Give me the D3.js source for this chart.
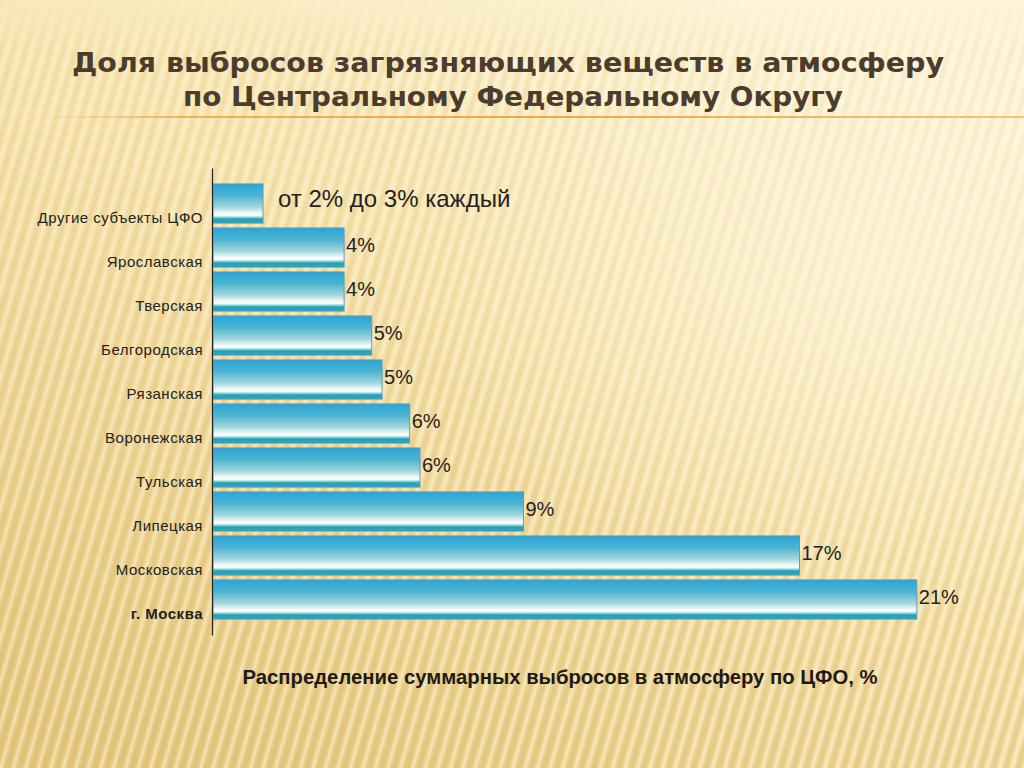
<!DOCTYPE html>
<html><head><meta charset="utf-8">
<script src="https://cdn.jsdelivr.net/npm/d3@7"></script>
<style>html,body{margin:0;padding:0;overflow:hidden;background:#f7e6b0}</style>
</head><body>
<script>
const categories = ["Другие субъекты ЦФО","Ярославская","Тверская","Белгородская","Рязанская","Воронежская","Тульская","Липецкая","Московская","г. Москва"];
const values = [1.45, 3.8, 3.8, 4.6, 4.9, 5.7, 6.0, 9.0, 17.0, 20.4];
const valueLabels = ["от 2% до 3% каждый","4%","4%","5%","5%","6%","6%","9%","17%","21%"];
const titleLines = ["Доля выбросов загрязняющих веществ в атмосферу","по Центральному Федеральному Округу"];
const caption = "Распределение суммарных выбросов в атмосферу по ЦФО, %";

const W = 1024, H = 768;
const svg = d3.select("body").append("svg").attr("width", W).attr("height", H);
const defs = svg.append("defs");

// background
const bg = defs.append("linearGradient").attr("id","bg").attr("x1","0.75").attr("y1","0").attr("x2","0.15").attr("y2","1");
bg.append("stop").attr("offset","0").attr("stop-color","#fdf4d6");
bg.append("stop").attr("offset","0.4").attr("stop-color","#f8e6b2");
bg.append("stop").attr("offset","1").attr("stop-color","#e8cb84");
const glow = defs.append("radialGradient").attr("id","glow").attr("cx","0.85").attr("cy","0.35").attr("r","0.45");
glow.append("stop").attr("offset","0").attr("stop-color","#fff8e0").attr("stop-opacity",0.6);
glow.append("stop").attr("offset","1").attr("stop-color","#fff8e0").attr("stop-opacity",0);
const pat = defs.append("pattern").attr("id","stripes").attr("patternUnits","userSpaceOnUse")
  .attr("width",12).attr("height",20).attr("patternTransform","rotate(16)");
pat.append("rect").attr("width",5).attr("height",20).attr("fill","#c29d42").attr("opacity",0.2);
pat.append("rect").attr("x",7).attr("width",3).attr("height",20).attr("fill","#fffbe8").attr("opacity",0.4);
const fadeMask = defs.append("linearGradient").attr("id","fade").attr("x1","0").attr("y1","0").attr("x2","0").attr("y2","1");
fadeMask.append("stop").attr("offset","0").attr("stop-color","#fff").attr("stop-opacity",0);
fadeMask.append("stop").attr("offset","0.07").attr("stop-color","#fff").attr("stop-opacity",0.6);
fadeMask.append("stop").attr("offset","1").attr("stop-color","#fff").attr("stop-opacity",1);
defs.append("mask").attr("id","m").append("rect").attr("width",W).attr("height",H).attr("fill","url(#fade)");

svg.append("rect").attr("width",W).attr("height",H).attr("fill","url(#bg)");
svg.append("rect").attr("width",W).attr("height",H).attr("fill","url(#stripes)").attr("mask","url(#m)");
svg.append("rect").attr("width",W).attr("height",H).attr("fill","url(#glow)");

// title
const title = svg.append("g").attr("font-family","'DejaVu Sans Condensed','DejaVu Sans',sans-serif")
  .attr("font-weight","bold").attr("fill","#4b3c2e").attr("text-anchor","middle");
title.append("text").attr("x",508).attr("y",72).attr("font-size",27)
  .attr("textLength",872).attr("lengthAdjust","spacingAndGlyphs").text(titleLines[0]);
title.append("text").attr("x",513).attr("y",106).attr("font-size",27)
  .attr("textLength",660).attr("lengthAdjust","spacingAndGlyphs").text(titleLines[1]);
const ol = defs.append("linearGradient").attr("id","ol");
ol.append("stop").attr("offset","0").attr("stop-color","#f0c070").attr("stop-opacity",0);
ol.append("stop").attr("offset","0.15").attr("stop-color","#eab35a");
ol.append("stop").attr("offset","0.5").attr("stop-color","#e8a94a");
ol.append("stop").attr("offset","1").attr("stop-color","#efc47a");
svg.append("rect").attr("x",30).attr("y",116).attr("width",994).attr("height",2).attr("fill","url(#ol)");

// scales
const y = d3.scaleBand().domain(categories).range([168,635]).paddingInner(0.11).paddingOuter(0.362);
const x = d3.scaleLinear().domain([0,22]).range([213, 213+34.5*22]);

// bar gradient
const bgr = defs.append("linearGradient").attr("id","bar").attr("x1",0).attr("y1",0).attr("x2",0).attr("y2",1);
[["0","#2aa5d8"],["0.3","#4db4d0"],["0.6","#a6d8dc"],["0.74","#eef8f8"],["0.8","#ffffff"],["0.85","#9cd5da"],["0.89","#22a7b4"],["1","#28a2c0"]]
  .forEach(s => bgr.append("stop").attr("offset",s[0]).attr("stop-color",s[1]));

svg.append("g").selectAll("rect").data(categories).join("rect")
  .attr("x", x(0)).attr("y", d => y(d))
  .attr("width", (d,i) => x(values[i]) - x(0)).attr("height", y.bandwidth())
  .attr("fill","url(#bar)").attr("stroke","#5a9ec6").attr("stroke-width",1);

// axis
const axis = svg.append("g").attr("transform",`translate(${x(0)-1},0)`)
  .call(d3.axisLeft(y).tickSize(0).tickPadding(9));
axis.select(".domain").attr("stroke","#222").attr("stroke-width",1.2);
axis.selectAll(".tick text").attr("font-family","'Liberation Sans',Arial,sans-serif")
  .attr("font-size",15).attr("letter-spacing",0.5).attr("fill","#222").attr("dy","1.3em")
  .attr("font-weight", d => d === "г. Москва" ? "bold" : "normal");

// value labels
svg.append("g").selectAll("text").data(categories).join("text")
  .attr("font-family","'Liberation Sans',Arial,sans-serif").attr("fill","#222")
  .attr("font-size",(d,i) => i === 0 ? 24 : 20)
  .attr("x",(d,i) => x(values[i]) + (i === 0 ? 15 : 2))
  .attr("y",(d,i) => y(d) + (i === 0 ? 23 : 24))
  .text((d,i) => valueLabels[i]);

// caption
svg.append("text").attr("x",560).attr("y",684).attr("text-anchor","middle")
  .attr("font-family","'Liberation Sans',Arial,sans-serif").attr("font-weight","bold")
  .attr("font-size",20).attr("fill","#1e1a14")
  .attr("textLength",635).attr("lengthAdjust","spacingAndGlyphs").text(caption);
</script>
</body></html>
